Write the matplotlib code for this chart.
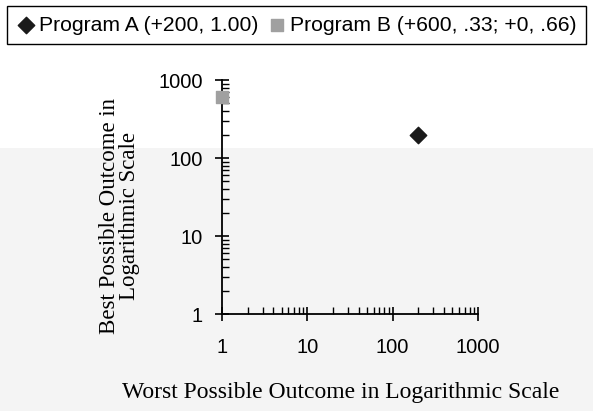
import matplotlib
matplotlib.use("Agg")
import matplotlib.pyplot as plt
from matplotlib.patches import Rectangle
from matplotlib.ticker import LogLocator, FixedLocator, NullFormatter

# Worst / best possible outcome for each program (log scale)
program_a_worst = [200]
program_a_best = [200]
program_b_worst = [1]   # worst outcome is +0, drawn at the axis edge
program_b_best = [600]

labels = ["Program A (+200, 1.00)", "Program B (+600, .33; +0, .66)"]
tick_values = [1, 10, 100, 1000]
tick_labels = ["1", "10", "100", "1000"]

plt.rcParams['font.family'] = ['Liberation Sans', 'DejaVu Sans']

fig = plt.figure(figsize=(5.93, 4.11), dpi=100)
# light grey lower part of the scanned page
fig.patches.append(Rectangle((0, 0), 1, 1 - 148 / 411, transform=fig.transFigure,
                             facecolor='#f4f4f4', edgecolor='none', zorder=-10))

ax = fig.add_axes([222 / 593, 1 - 314 / 411, (478 - 222) / 593, (314 - 80) / 411])
ax.patch.set_alpha(0)

ax.scatter(program_a_worst, program_a_best, marker='D', s=70, color='#1a1a1a',
           label=labels[0], zorder=3, clip_on=False)
ax.scatter(program_b_worst, program_b_best, marker='s', s=70, color='#a0a0a0',
           label=labels[1], zorder=3, clip_on=False)

ax.set_xscale('log')
ax.set_yscale('log')
ax.set_xlim(1, 1000)
ax.set_ylim(1, 1000)
for spine in ['top', 'right']:
    ax.spines[spine].set_visible(False)
ax.spines['left'].set_linewidth(1.3)
ax.spines['bottom'].set_linewidth(1.3)

ax.xaxis.set_major_locator(FixedLocator(tick_values))
ax.yaxis.set_major_locator(FixedLocator(tick_values))
ax.set_xticklabels(tick_labels)
ax.set_yticklabels(tick_labels)
ax.xaxis.set_minor_locator(LogLocator(base=10, subs=range(2, 10)))
ax.yaxis.set_minor_locator(LogLocator(base=10, subs=range(2, 10)))
ax.xaxis.set_minor_formatter(NullFormatter())
ax.yaxis.set_minor_formatter(NullFormatter())
ax.tick_params(which='major', direction='inout', length=10, width=1.2,
               labelsize=14.5)
ax.tick_params(axis='x', which='major', pad=12)
ax.tick_params(axis='y', which='major', pad=9)
ax.tick_params(which='minor', direction='in', length=5, width=1.0)

ax.set_xlabel("Worst Possible Outcome in Logarithmic Scale", family='Liberation Serif',
              fontsize=17)
ax.xaxis.set_label_coords(0.465, -0.29)
ax.set_ylabel("Best Possible Outcome in\nLogarithmic Scale", family='Liberation Serif',
              fontsize=16.5, linespacing=0.95)
ax.yaxis.set_label_coords(-0.32, 0.42)

fig.legend(loc='upper center', bbox_to_anchor=(0.5, 1.0), ncol=2, fontsize=15.2,
           frameon=True, fancybox=False, edgecolor='black', handletextpad=0.2,
           columnspacing=0.4, borderpad=0.45, borderaxespad=0.3,
           handlelength=0.9, framealpha=1)

fig.savefig("out.png", dpi=100)
